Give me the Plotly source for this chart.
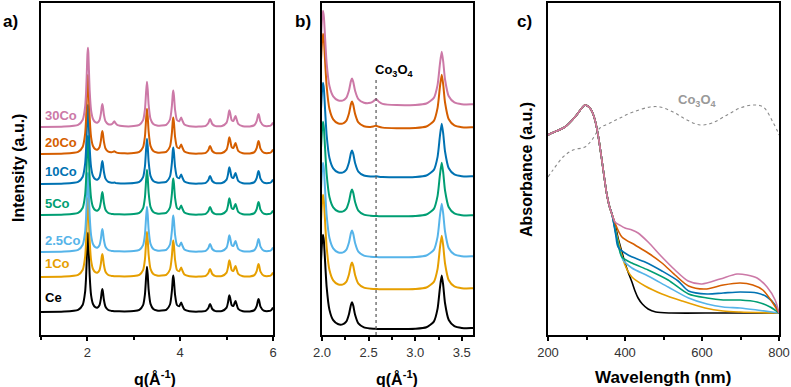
import plotly.graph_objects as go

# ---------------- data ----------------
samples = ["Ce", "1Co", "2.5Co", "5Co", "10Co", "20Co", "30Co"]
colors = ["#000000", "#E69F00", "#56B4E9", "#009E73", "#0072B2", "#D55E00", "#CC79A7"]

# XRD (panel a/b): CeO2 fluorite profile (a.u.)
q_grid = [1.0, 1.5, 1.8, 1.9, 1.95, 1.97, 1.99, 2.0, 2.011, 2.02,
          2.03, 2.05, 2.08, 2.12, 2.17, 2.22, 2.26, 2.29, 2.31, 2.322,
          2.335, 2.355, 2.39, 2.45, 2.52, 2.55, 2.58, 2.61, 2.65, 2.8,
          3.0, 3.12, 3.2, 3.24, 3.265, 3.284, 3.30, 3.32, 3.36, 3.42,
          3.5, 3.6, 3.7, 3.78, 3.82, 3.84, 3.851, 3.865, 3.89, 3.93,
          3.98, 4.0, 4.022, 4.045, 4.09, 4.2, 4.4, 4.55, 4.61, 4.63,
          4.644, 4.66, 4.69, 4.76, 4.9, 5.0, 5.03, 5.05, 5.061, 5.075,
          5.11, 5.15, 5.175, 5.192, 5.21, 5.25, 5.35, 5.5, 5.6, 5.65,
          5.675, 5.688, 5.70, 5.73, 5.8, 5.9, 5.96, 6.0]
ceo2_intensity = [0.1, 0.4, 2.2, 7.3, 19.8, 33.5, 58.3, 72.1, 79.3, 74.4,
                  61.3, 35.6, 16.6, 8.0, 4.8, 4.5, 6.8, 13.2, 20.7, 23.0,
                  20.2, 12.5, 5.3, 2.0, 1.1, 0.9, 0.8, 0.7, 0.7, 0.6,
                  0.9, 2.1, 6.8, 17.6, 34.8, 45.2, 37.4, 22.1, 8.1, 3.0,
                  1.5, 1.4, 2.2, 7.5, 20.6, 33.2, 36.5, 31.4, 16.8, 7.0,
                  5.8, 7.6, 9.4, 6.7, 2.5, 0.8, 0.4, 1.1, 4.2, 7.0,
                  8.1, 6.7, 3.0, 0.9, 1.0, 4.4, 9.5, 15.2, 16.7, 14.6,
                  6.9, 6.2, 9.5, 11.1, 8.7, 3.2, 0.8, 0.6, 1.9, 6.1,
                  11.5, 13.1, 11.7, 5.4, 1.4, 0.9, 1.7, 4.4]
# Co3O4 (311) reflection seen in the Co-rich samples
co3o4_q = [2.355, 2.39, 2.45, 2.52, 2.55, 2.58, 2.61, 2.65, 2.8]
co3o4_shape = [0.04, 0.08, 0.15, 0.32, 0.6, 1.0, 0.58, 0.22, 0.03]
co3o4_weight = [0, 0, 0, 0, 0.6, 2.0, 5.0]
co3o4_peak_q = 2.58

# stacking offsets (a.u.)
offset_a = [23, 58, 83, 120, 151, 181, 208]
offset_b = [5.2, 45, 77, 118, 157, 206, 229]
scale_b = 1.2
label_y_a = [38, 72, 95, 132, 164, 193, 220]

# UV-vis (panel c)
wl_common = [200, 210, 244, 270, 288, 296, 303, 309, 316, 322, 330, 338, 346, 353, 360, 366]
abs_common = [2.00, 2.02, 2.08, 2.18, 2.27, 2.30, 2.29, 2.27, 2.22, 2.15, 2.00, 1.80, 1.58, 1.40, 1.28, 1.21]
wl_tail = {
    "Ce":    [374, 382, 392, 400, 408, 418, 426, 434, 445, 460, 480, 520, 650, 800],
    "1Co":   [382, 400, 418, 452, 496, 548, 608, 655, 699, 800],
    "2.5Co": [380, 395, 418, 460, 512, 565, 613, 655, 699, 743, 800],
    "5Co":   [380, 392, 418, 460, 512, 565, 613, 655, 699, 743, 777, 800],
    "10Co":  [376, 382, 408, 452, 496, 538, 565, 613, 655, 699, 743, 769, 790, 800],
    "20Co":  [374, 392, 426, 460, 496, 530, 565, 608, 655, 699, 732, 758, 784, 800],
    "30Co":  [374, 386, 400, 418, 434, 460, 496, 530, 564, 600, 647, 691, 717, 743, 769, 790, 800],
}
abs_tail = {
    "Ce":    [1.11, 0.97, 0.83, 0.72, 0.63, 0.53, 0.44, 0.37, 0.31, 0.26, 0.23, 0.22, 0.22, 0.22],
    "1Co":   [0.95, 0.70, 0.58, 0.49, 0.41, 0.34, 0.27, 0.24, 0.23, 0.22],
    "2.5Co": [0.95, 0.75, 0.67, 0.59, 0.48, 0.37, 0.31, 0.28, 0.27, 0.25, 0.22],
    "5Co":   [0.95, 0.78, 0.72, 0.65, 0.55, 0.41, 0.37, 0.35, 0.35, 0.33, 0.28, 0.22],
    "10Co":  [1.00, 0.88, 0.80, 0.73, 0.64, 0.54, 0.44, 0.41, 0.42, 0.43, 0.42, 0.38, 0.30, 0.22],
    "20Co":  [1.12, 0.98, 0.90, 0.82, 0.72, 0.60, 0.49, 0.46, 0.50, 0.52, 0.50, 0.45, 0.32, 0.22],
    "30Co":  [1.13, 1.10, 1.07, 1.05, 1.02, 0.93, 0.78, 0.65, 0.54, 0.51, 0.56, 0.61, 0.60, 0.57, 0.48, 0.35, 0.22],
}
wl_co3o4 = [200, 213, 239, 265, 296, 314, 335, 361, 387, 421, 465, 491, 525, 561, 595, 626, 665, 699, 733, 759, 784, 797, 800]
abs_co3o4 = [1.58, 1.65, 1.78, 1.85, 1.88, 1.95, 2.07, 2.12, 2.17, 2.23, 2.28, 2.28, 2.23, 2.15, 2.10, 2.12, 2.20, 2.27, 2.30, 2.28, 2.13, 2.03, 2.00]

# ---------------- figure ----------------
W, H = 791, 387
FONT = "Liberation Sans, Arial, sans-serif"
co_map = dict(zip(co3o4_q, co3o4_shape))

fig = go.Figure()

for i, s in enumerate(samples):
    prof = [v + co3o4_weight[i] * co_map.get(q, 0.0) for q, v in zip(q_grid, ceo2_intensity)]
    fig.add_trace(go.Scatter(x=q_grid, y=[offset_a[i] + v for v in prof], mode="lines",
                             line=dict(color=colors[i], width=2, shape="spline", smoothing=0.6),
                             xaxis="x", yaxis="y", showlegend=False, hoverinfo="skip"))
    fig.add_trace(go.Scatter(x=q_grid, y=[offset_b[i] + scale_b * v for v in prof], mode="lines",
                             line=dict(color=colors[i], width=2, shape="spline", smoothing=0.6),
                             xaxis="x2", yaxis="y2", showlegend=False, hoverinfo="skip"))

fig.add_trace(go.Scatter(x=[co3o4_peak_q, co3o4_peak_q], y=[0, 255], mode="lines",
                         line=dict(color="#555555", width=1.2, dash="dot"),
                         xaxis="x2", yaxis="y2", showlegend=False, hoverinfo="skip"))

fig.add_trace(go.Scatter(x=wl_co3o4, y=abs_co3o4, mode="lines",
                         line=dict(color="#8a8a8a", width=1.1, dash="dot", shape="spline"),
                         xaxis="x3", yaxis="y3", showlegend=False, hoverinfo="skip"))
for i, s in enumerate(samples):
    fig.add_trace(go.Scatter(x=wl_common + wl_tail[s], y=abs_common + abs_tail[s], mode="lines",
                             line=dict(color=colors[i], width=1.6, shape="spline", smoothing=0.8),
                             xaxis="x3", yaxis="y3", showlegend=False, hoverinfo="skip"))

ydom = [(H - 335) / H, (H - 3) / H]
axcommon = dict(showline=True, linewidth=2, linecolor="black", mirror=True,
                showgrid=False, zeroline=False, automargin=False,
                tickfont=dict(family=FONT, size=13, color="#333333"))
xtick = dict(ticks="outside", ticklen=4, tickwidth=1.5, tickcolor="black")

fig.update_layout(
    width=W, height=H, margin=dict(l=0, r=0, t=0, b=0, autoexpand=False),
    paper_bgcolor="white", plot_bgcolor="white",
    xaxis=dict(domain=[41 / W, 273 / W], range=[1, 6], tick0=0, dtick=2,
               minor=dict(dtick=1, ticks="outside", ticklen=3, tickcolor="black"),
               anchor="y", **xtick, **axcommon),
    yaxis=dict(domain=ydom, range=[0, 332], showticklabels=False, ticks="", anchor="x", **axcommon),
    xaxis2=dict(domain=[322 / W, 473 / W], range=[2.0, 3.62], tick0=2.0, dtick=0.5, tickformat=".1f",
                minor=dict(dtick=0.25, ticks="outside", ticklen=3, tickcolor="black"),
                anchor="y2", **xtick, **axcommon),
    yaxis2=dict(domain=ydom, range=[0, 332], showticklabels=False, ticks="", anchor="x2", **axcommon),
    xaxis3=dict(domain=[548 / W, 779 / W], range=[200, 800], tick0=200, dtick=200,
                minor=dict(dtick=100, ticks="outside", ticklen=3, tickcolor="black"),
                anchor="y3", **xtick, **axcommon),
    yaxis3=dict(domain=ydom, range=[0, 3.32], showticklabels=False, ticks="", anchor="x3", **axcommon),
)

ann = []
def paper_text(text, px, py, size, color="black", angle=0, bold=True):
    ann.append(dict(text=f"<b>{text}</b>" if bold else text, x=px / W, y=1 - py / H,
                    xref="paper", yref="paper", showarrow=False, textangle=angle,
                    xanchor="center", yanchor="middle",
                    font=dict(family=FONT, size=size, color=color)))

paper_text("a)", 10, 22, 17)
paper_text("b)", 303, 22, 17)
paper_text("c)", 524, 22, 17)
paper_text("Intensity (a.u.)", 18, 168, 16, angle=-90)
paper_text("Absorbance (a.u.)", 526, 170, 16, angle=-90)
paper_text("q(Å<sup>-1</sup>)", 155, 378, 16)
paper_text("q(Å<sup>-1</sup>)", 397, 378, 16)
paper_text("Wavelength (nm)", 663, 377, 17)

for i, s in enumerate(samples):
    ann.append(dict(text=f"<b>{s}</b>", x=1.05, y=label_y_a[i], xref="x", yref="y",
                    showarrow=False, xanchor="left", yanchor="middle",
                    font=dict(family=FONT, size=13, color=colors[i])))

ann.append(dict(text="<b>Co<sub>3</sub>O<sub>4</sub></b>", x=2.78, y=265, xref="x2", yref="y2",
                showarrow=False, xanchor="center", yanchor="middle",
                font=dict(family=FONT, size=13, color="black")))
ann.append(dict(text="<b>Co<sub>3</sub>O<sub>4</sub></b>", x=587, y=2.35, xref="x3", yref="y3",
                showarrow=False, xanchor="center", yanchor="middle",
                font=dict(family=FONT, size=13, color="#999999")))

fig.update_layout(annotations=ann)
fig.write_html("out.html", config={"displayModeBar": False},
               post_script="document.body.style.margin='0px';")
